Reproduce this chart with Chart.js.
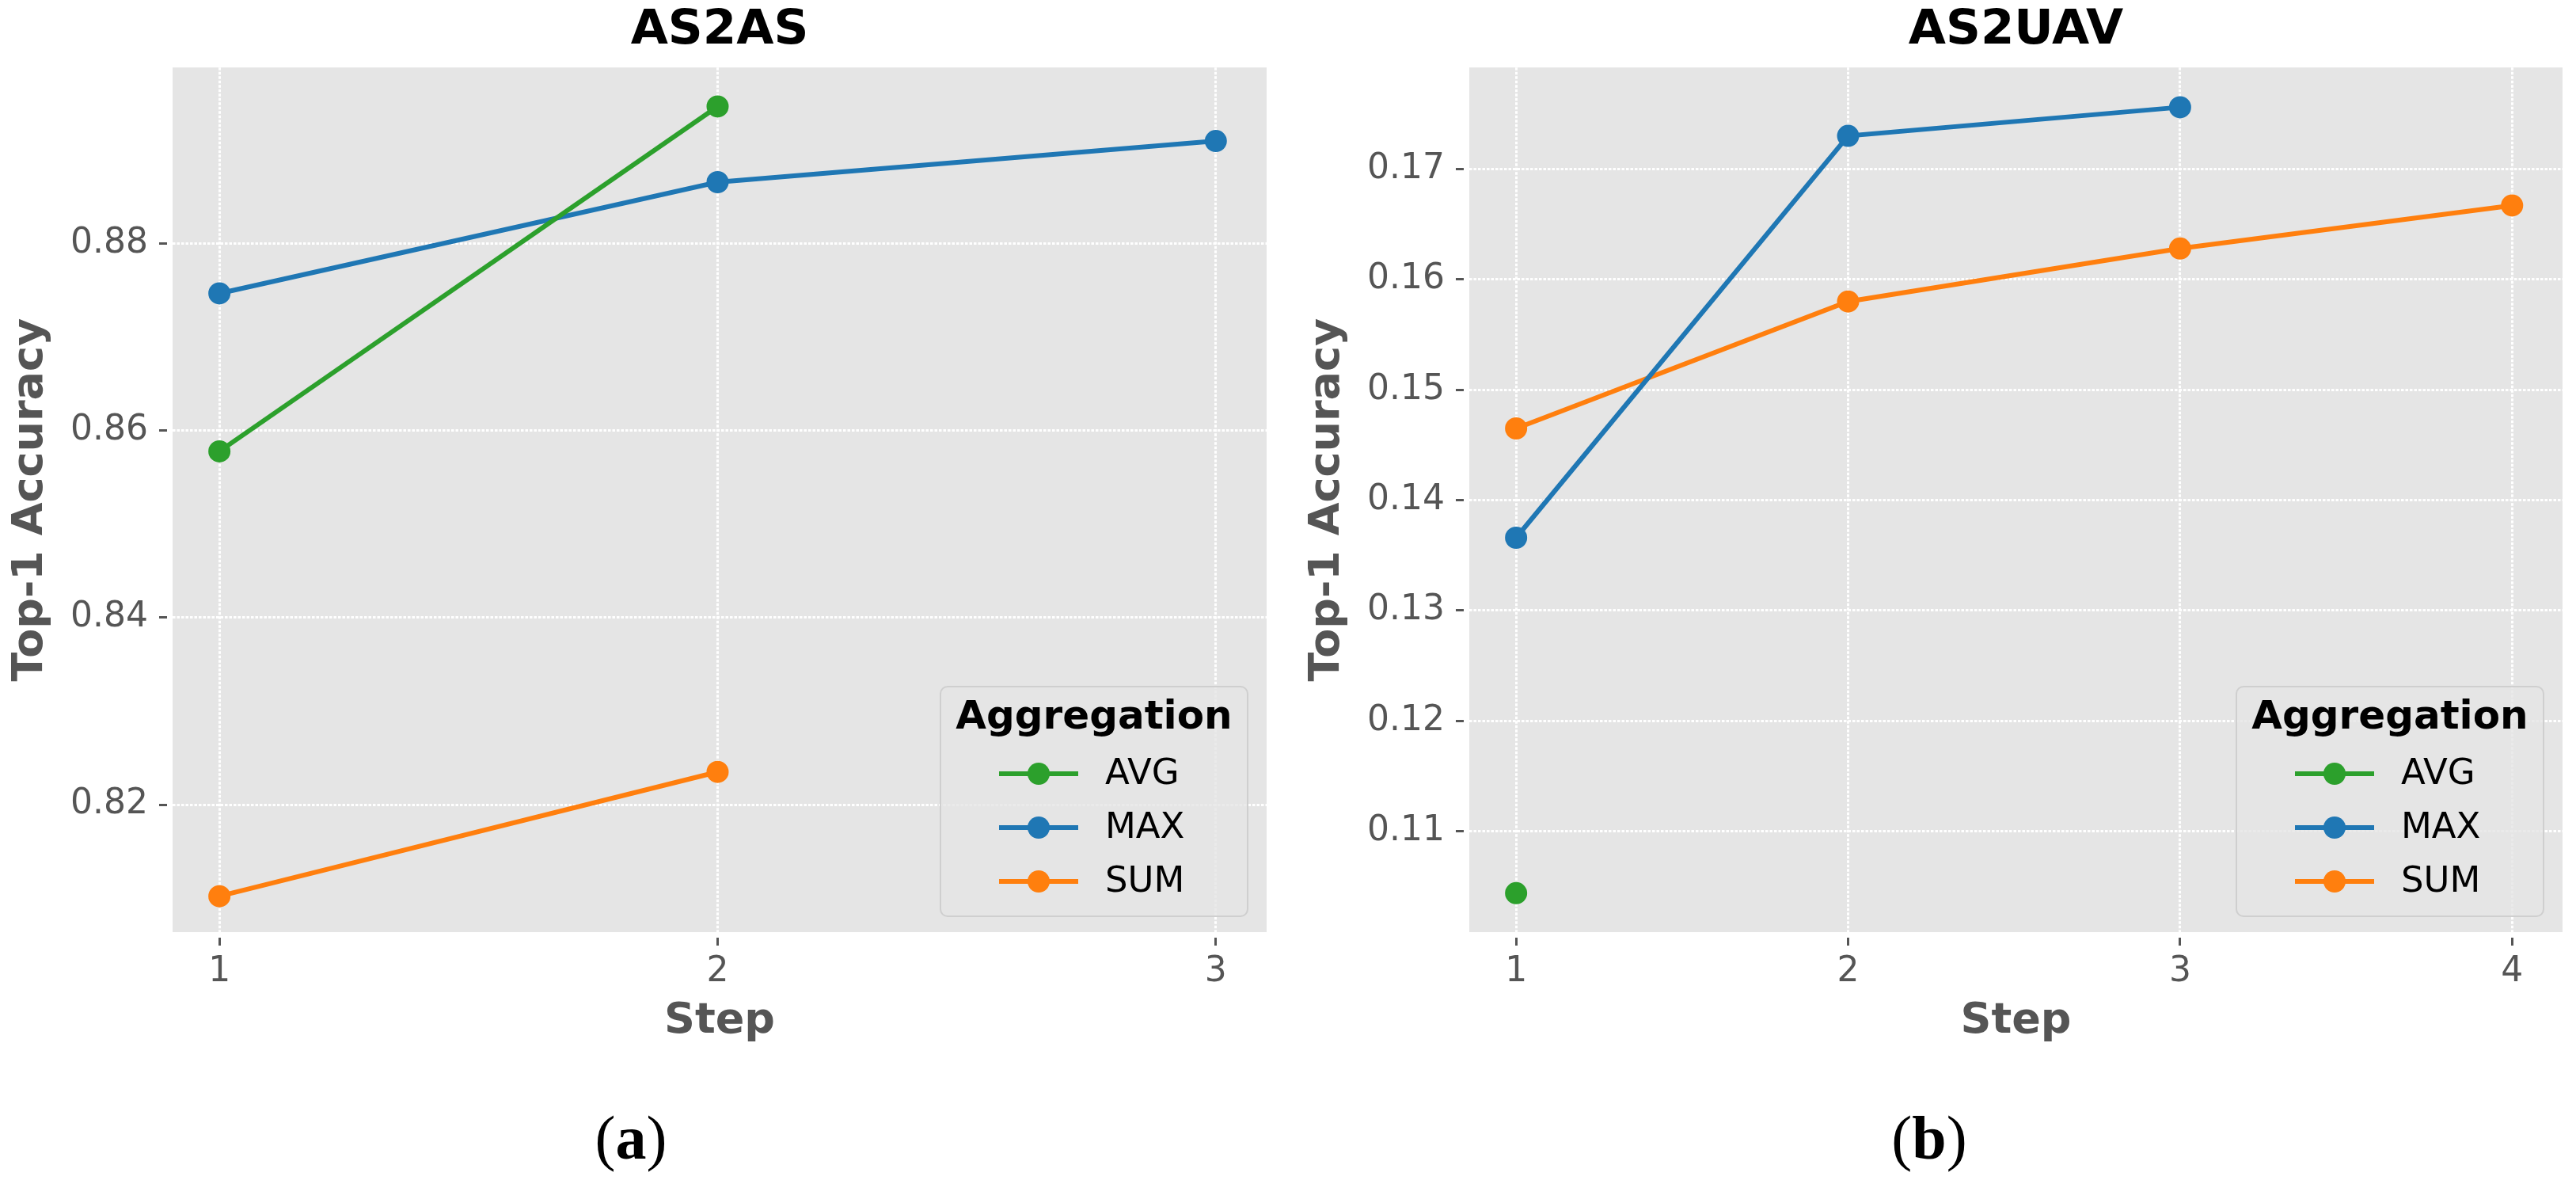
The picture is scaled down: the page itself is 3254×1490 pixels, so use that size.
<!DOCTYPE html>
<html>
<head>
<meta charset="utf-8">
<script src="https://cdn.jsdelivr.net/npm/chart.js@4"></script>
<style>
  html, body { margin: 0; padding: 0; background: #fff; }
  body { width: 3254px; height: 1490px; position: relative; overflow: hidden; }
  .panel { position: absolute; top: 0; height: 1324px; }
  .sub {
    position: absolute; font-family: "Liberation Serif", serif; font-size: 78px;
    line-height: 1; transform: translate(-50%, -50%); color: #000; white-space: nowrap;
  }
</style>
</head>
<body>
<div class="panel" style="left:0;width:1627px"><canvas id="chartAS2AS"></canvas></div>
<div class="panel" style="left:1638px;width:1616px"><canvas id="chartAS2UAV"></canvas></div>
<div class="sub" style="left:797px;top:1437px">(<b>a</b>)</div>
<div class="sub" style="left:2437px;top:1437px">(<b>b</b>)</div>
<script>
const seriesNames = ['AVG', 'MAX', 'SUM'];

// AS2AS
const stepsAS2AS = [1, 2, 3];
const avgAS2AS = [0.8578, 0.8947, null];
const maxAS2AS = [0.8747, 0.8866, 0.8910];
const sumAS2AS = [0.8102, 0.8235, null];
const yTicksAS2AS = [0.82, 0.84, 0.86, 0.88];

// AS2UAV
const stepsAS2UAV = [1, 2, 3, 4];
const avgAS2UAV = [0.1044, null, null, null];
const maxAS2UAV = [0.1366, 0.1730, 0.1756, null];
const sumAS2UAV = [0.1465, 0.1580, 0.1628, 0.1667];
const yTicksAS2UAV = [0.11, 0.12, 0.13, 0.14, 0.15, 0.16, 0.17];

const colors = ['#2ca02c', '#1f77b4', '#ff7f0e'];
const grey = '#555555';

Chart.defaults.font.family = '"DejaVu Sans", sans-serif';

const panelBackground = {
  id: 'panelBackground',
  beforeDraw(chart) {
    const { ctx, chartArea: a } = chart;
    ctx.save();
    ctx.fillStyle = '#e5e5e5';
    ctx.fillRect(a.left, a.top, a.width, a.height);
    ctx.restore();
  }
};

// matplotlib style legend placed inside the plot, lower right
const insideLegend = {
  id: 'insideLegend',
  afterDraw(chart) {
    const { ctx, chartArea: a } = chart;
    const w = 388, h = 290;
    const x = a.right - 24 - w, y = a.bottom - 20 - h;
    ctx.save();
    ctx.beginPath();
    ctx.roundRect(x, y, w, h, 9);
    ctx.fillStyle = 'rgba(229,229,229,0.8)';
    ctx.fill();
    ctx.lineWidth = 2;
    ctx.strokeStyle = '#cfcfcf';
    ctx.stroke();
    ctx.fillStyle = '#000';
    ctx.textAlign = 'center';
    ctx.textBaseline = 'middle';
    ctx.font = 'bold 50px "DejaVu Sans"';
    ctx.fillText('Aggregation', x + w / 2, y + 40);
    chart.data.datasets.forEach((ds, i) => {
      const cy = y + 110 + i * 68;
      ctx.strokeStyle = ds.borderColor;
      ctx.lineWidth = 6;
      ctx.beginPath();
      ctx.moveTo(x + 74, cy);
      ctx.lineTo(x + 174, cy);
      ctx.stroke();
      ctx.fillStyle = ds.borderColor;
      ctx.beginPath();
      ctx.arc(x + 124, cy, 14, 0, Math.PI * 2);
      ctx.fill();
      ctx.fillStyle = '#000';
      ctx.textAlign = 'left';
      ctx.font = '45px "DejaVu Sans"';
      ctx.fillText(ds.label, x + 208, cy + 1);
    });
    ctx.restore();
  }
};

function toPoints(steps, values) {
  return steps.map((s, i) => ({ x: s, y: values[i] }));
}

function makeChart(id, title, steps, series, xMin, xMax, yMin, yMax, yTicks, padRight) {
  const datasets = series.map((values, i) => ({
    label: seriesNames[i],
    data: toPoints(steps, values),
    borderColor: colors[i],
    backgroundColor: colors[i],
    borderWidth: 6,
    pointRadius: 13,
    pointBorderWidth: 2,
    pointBorderColor: colors[i],
    pointBackgroundColor: colors[i],
  }));
  const grid = {
    color: '#ffffff',
    lineWidth: 3,
    tickLength: 17,
    tickColor: grey,
    tickWidth: 3,
  };
  return new Chart(document.getElementById(id), {
    type: 'line',
    data: { datasets },
    plugins: [panelBackground, insideLegend],
    options: {
      responsive: true,
      maintainAspectRatio: false,
      devicePixelRatio: 1,
      animation: false,
      events: [],
      layout: { padding: { left: 0, right: padRight, top: 0, bottom: 0 } },
      plugins: {
        legend: { display: false },
        tooltip: { enabled: false },
        title: {
          display: true,
          text: title,
          color: '#000',
          fullSize: false,
          font: { size: 61, weight: 'bold' },
          padding: { top: 3, bottom: 9 },
        },
      },
      scales: {
        x: {
          type: 'linear',
          min: xMin,
          max: xMax,
          afterBuildTicks: s => { s.ticks = steps.map(v => ({ value: v })); },
          afterFit: s => { s.height = 147; },
          grid: { ...grid, tickBorderDash: [0, 7, 10, 100] },
          border: { display: false, dash: [3.5, 2] },
          ticks: { color: grey, font: { size: 44 }, padding: 7, callback: v => String(v) },
          title: {
            display: true, text: 'Step', color: grey,
            font: { size: 54, weight: 'bold' }, padding: { top: 0, bottom: 2 },
          },
        },
        y: {
          min: yMin,
          max: yMax,
          afterBuildTicks: s => { s.ticks = yTicks.map(v => ({ value: v })); },
          afterFit: s => { s.width = 218; },
          grid: { ...grid, tickBorderDash: [10, 100] },
          border: { display: false, dash: [3.5, 2] },
          ticks: { color: grey, font: { size: 44 }, padding: 14, callback: v => v.toFixed(2) },
          title: {
            display: true, text: 'Top-1 Accuracy', color: grey,
            font: { size: 54, weight: 'bold' }, padding: { top: 7, bottom: 0 },
          },
        },
      },
    },
  });
}

makeChart('chartAS2AS', 'AS2AS', stepsAS2AS, [avgAS2AS, maxAS2AS, sumAS2AS],
  0.906, 3.102, 0.80636, 0.89887, yTicksAS2AS, 27);
makeChart('chartAS2UAV', 'AS2UAV', stepsAS2UAV, [avgAS2UAV, maxAS2UAV, sumAS2UAV],
  0.859, 4.152, 0.10087, 0.17920, yTicksAS2UAV, 17);
</script>
</body>
</html>
